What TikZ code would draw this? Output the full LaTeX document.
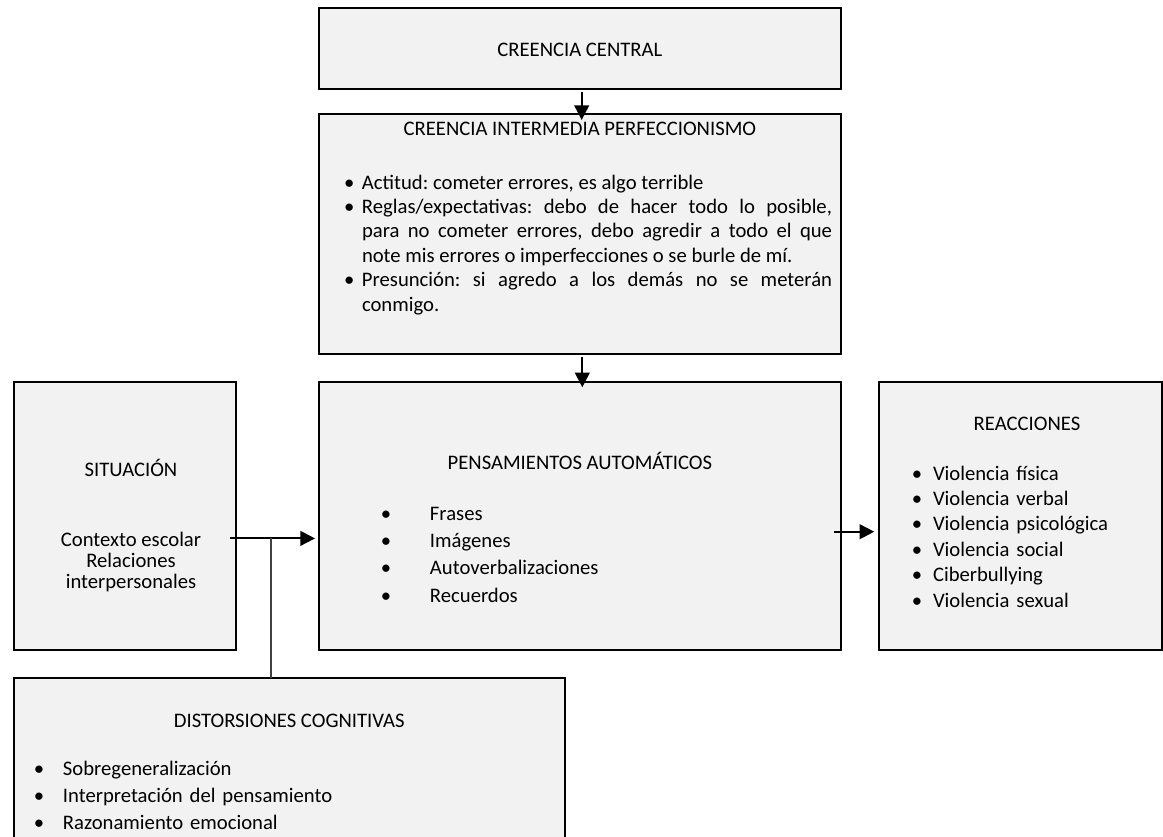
\documentclass[tikz,border=0pt]{standalone}
\usepackage{fontspec}
\setmainfont{Carlito}
\usetikzlibrary{arrows.meta,calc}
\definecolor{boxfill}{HTML}{F2F2F2}
\newcommand\bul[1]{\noindent\llap{\makebox[0pt][c]{\textbullet}\hspace{#1}}}
\begin{document}
\begin{tikzpicture}[x=0.75pt,y=-0.75pt,
  box/.style={draw=black,line width=1.5pt,fill=boxfill,inner sep=0pt,outer sep=0pt},
  txt/.style={inner sep=0pt,outer sep=0pt,font=\fontsize{15.5}{18.5}\selectfont},
  arr/.style={line width=1.5pt,-{Triangle[length=11pt,width=11pt]}},
  link/.style={line width=1pt,draw=black!75}]
\useasboundingbox (0,0) rectangle (1163,836);
\clip (0,0) rectangle (1163,836);

% boxes
\node[box,minimum width=391.7pt,minimum height=61pt] (cc) at (579.85,48.35) {};
\node[box,minimum width=391.7pt,minimum height=179.8pt] (ci) at (579.85,234.15) {};
\node[box,minimum width=391.7pt,minimum height=200.85pt] (pa) at (579.85,515.6) {};
\node[box,minimum width=166.65pt,minimum height=200.85pt] (sit) at (124.6,515.6) {};
\node[box,minimum width=211.9pt,minimum height=200.85pt] (rea) at (1020.25,515.6) {};
\node[box,minimum width=413.6pt,minimum height=166.7pt] (dis) at (289.25,788.85) {};

% texts
\node[txt,anchor=base] (cct) at (579.85,56.7) {CREENCIA CENTRAL};
\node[txt,anchor=base] (cit) at (579.85,135.5) {CREENCIA INTERMEDIA PERFECCIONISMO};
\node[txt,anchor=base west,text width=352.5pt,align=justify,
      font=\fontsize{15.5}{18.3}\selectfont\frenchspacing] (cil) at (362,189) {%
\bul{9.5pt}Actitud: cometer errores, es algo terrible\par
\bul{9.5pt}Reglas/expectativas: debo de hacer todo lo posible,\linebreak para no cometer errores, debo agredir a todo el que\linebreak note mis errores o imperfecciones o se burle de mí.\par
\bul{9.5pt}Presunción: si agredo a los demás no se meterán\linebreak conmigo.};

\node[txt,anchor=base] (pat) at (579.85,469) {PENSAMIENTOS AUTOMÁTICOS};
\node[txt,anchor=base west,text width=250pt,align=left,font=\fontsize{15.5}{20.5}\selectfont] (pal) at (430,520)
  {\bul{33pt}Frases\par\bul{33pt}Imágenes\par\bul{33pt}Autoverbalizaciones\par\bul{33pt}Recuerdos};

\node[txt,anchor=base] (sitt) at (131,476.7) {SITUACIÓN};
\node[txt,anchor=base,align=center,font=\fontsize{15.5}{15.75}\selectfont] (sitl) at (131,588.5)
  {Contexto escolar\\Relaciones\\interpersonales};

\node[txt,anchor=base] (reat) at (1027,430) {REACCIONES};
\node[txt,anchor=base west,text width=160pt,align=left,font=\fontsize{15.5}{19.1}\selectfont] (real) at (933,480)
  {\bul{12pt}Violencia física\par\bul{12pt}Violencia verbal\par\bul{12pt}Violencia psicológica\par\bul{12pt}Violencia social\par\bul{12pt}Ciberbullying\par\bul{12pt}Violencia sexual};

\node[txt,anchor=base] (dist) at (289.25,727) {DISTORSIONES COGNITIVAS};
\node[txt,anchor=base west,text width=300pt,align=left,font=\fontsize{15.5}{20.6}\selectfont] (disl) at (63,775)
  {\bul{18pt}Sobregeneralización\par\bul{18pt}Interpretación del pensamiento\par\bul{18pt}Razonamiento emocional};

% connectors
\draw[arr] ($(cc.south)+(1.85,2.7)$) -- ($(ci.north)+(1.85,5.7)$);
\draw[arr] ($(ci.south)+(2.45,3.3)$) -- ($(pa.north)+(2.45,5.6)$);
\coordinate (s0) at ($(sit.east)+(-5.7,22.8)$);
\coordinate (j) at ($(s0)+(41,0)$);
\draw[arr] (s0) -- ($(s0 -| pa.west)+(-3.7,0)$);
\draw[link] (j) -- (j |- dis.north);
\coordinate (p0) at ($(pa.east)+(-7,16.1)$);
\draw[arr] (p0) -- ($(p0 -| rea.west)+(-4.7,0)$);
\end{tikzpicture}
\end{document}
